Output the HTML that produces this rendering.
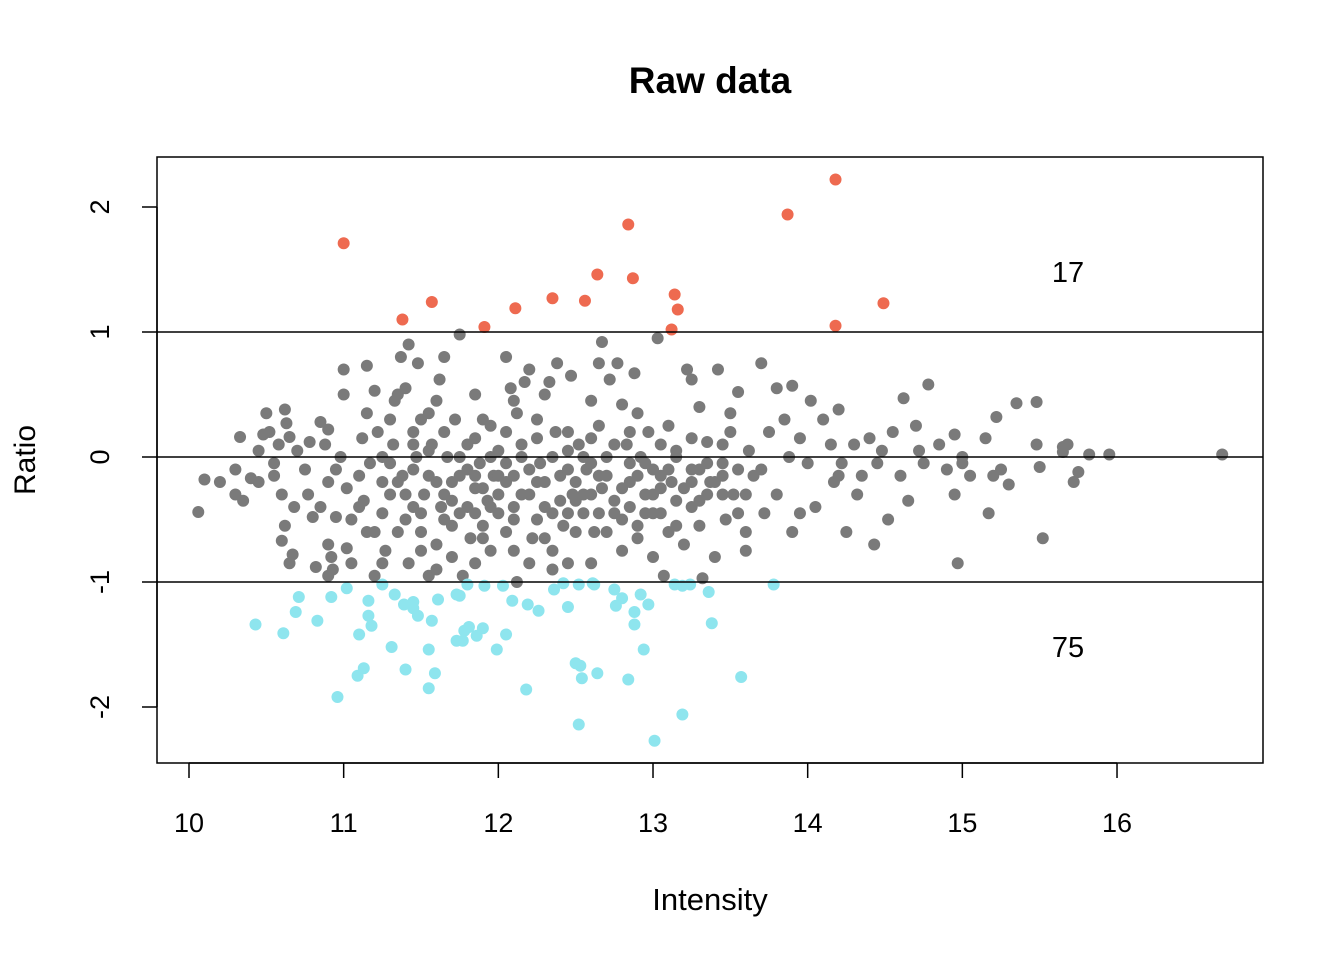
<!DOCTYPE html>
<html><head><meta charset="utf-8">
<style>
html,body{margin:0;padding:0;background:#fff;}
svg{display:block;font-family:"Liberation Sans",Arial,sans-serif;}
</style></head>
<body>
<svg id="chart" width="1344" height="960" viewBox="0 0 1344 960" xmlns="http://www.w3.org/2000/svg">
<text x="710" y="93" font-size="37" font-weight="bold" text-anchor="middle">Raw data</text>
<text x="710" y="910" font-size="31" text-anchor="middle">Intensity</text>
<text transform="translate(35,460) rotate(-90)" font-size="30" text-anchor="middle">Ratio</text>
<g id="pts"></g>
<g id="axes"></g>
<rect x="157" y="157" width="1106" height="606" fill="none" stroke="#000" stroke-width="1.5"/>
<text x="1068" y="282" font-size="29" text-anchor="middle">17</text>
<text x="1068" y="657" font-size="29" text-anchor="middle">75</text>
</svg>
<script>
const xTicks=[10,11,12,13,14,15,16];
const yTicks=[-2,-1,0,1,2];
const yTickLabels=["-2","-1","0","1","2"];
const refLines=[-1,0,1];
const upX=[11.00,11.38,11.57,11.91,12.11,12.35,12.56,12.64,12.84,12.87,13.14,13.16,13.12,13.87,14.18,14.18,14.49];
const upY=[1.71,1.10,1.24,1.04,1.19,1.27,1.25,1.46,1.86,1.43,1.30,1.18,1.02,1.94,2.22,1.05,1.23];
const downPx=[[256,625],[284,633],[296,612],[299,597],[317,621],[332,597],[346,588],[338,697],[357,676],[364,668],[359,634],[369,601],[369,616],[372,626],[382,585],[391,647],[395,595],[404,604],[413,602],[414,608],[418,616],[406,670],[429,649],[428,688],[435,673],[432,621],[438,599],[457,594],[459,596],[467,584],[484,586],[503,586],[512,601],[528,604],[456,641],[462,641],[465,631],[469,627],[476,636],[483,628],[497,650],[506,635],[526,690],[554,590],[564,583],[578,585],[592,583],[595,585],[538,611],[568,607],[614,589],[622,598],[616,606],[640,594],[648,604],[634,612],[634,624],[644,649],[675,584],[682,586],[690,584],[709,592],[712,623],[773,584],[575,663],[580,666],[582,678],[597,673],[628,679],[741,677],[579,725],[682,715],[655,741]];
const downX=downPx.map(p=>+(10+(p[0]-189)/154.67).toFixed(2));
const downY=downPx.map(p=>+((457-p[1])/125).toFixed(2));
const grayPts=[[10.06,-0.44],[10.1,-0.18],[10.2,-0.2],[10.3,-0.1],[10.33,0.16],[10.3,-0.3],[10.35,-0.35],[10.4,-0.17],[10.45,0.05],[10.45,-0.2],[10.48,0.18],[10.5,0.35],[10.52,0.2],[10.55,-0.15],[10.55,-0.05],[10.58,0.1],[10.6,-0.67],[10.6,-0.3],[10.62,0.38],[10.63,0.27],[10.62,-0.55],[10.65,0.16],[10.68,-0.4],[10.67,-0.78],[10.7,0.05],[10.65,-0.85],
[10.75,-0.1],[10.77,-0.3],[10.78,0.12],[10.8,-0.48],[10.82,-0.88],[10.85,-0.4],[10.85,0.28],[10.88,0.1],[10.9,-0.2],[10.9,0.22],[10.9,-0.7],[10.92,-0.8],[10.9,-0.95],[10.95,-0.48],[10.95,-0.1],[10.98,0.0],[11.0,0.5],[11.0,0.7],[11.02,-0.25],[11.02,-0.73],[11.05,-0.5],[11.05,-0.85],[10.93,-0.9],
[11.1,-0.15],[11.12,0.15],[11.13,-0.35],[11.15,0.35],[11.15,0.73],[11.17,-0.05],[11.2,0.53],[11.2,-0.6],[11.22,0.2],[11.25,-0.45],[11.25,0.0],[11.27,-0.75],[11.3,0.3],[11.3,-0.3],[11.32,0.1],[11.33,0.45],[11.35,-0.6],[11.35,0.5],[11.37,0.8],[11.38,-0.15],[11.4,-0.5],[11.4,0.55],[11.42,0.9],[11.42,-0.85],[11.45,0.2],[11.45,-0.1],[11.47,0.0],[11.48,0.75],[11.5,-0.6],[11.5,0.3],[11.2,-0.95],[11.25,-0.85],
[11.52,-0.3],[11.55,-0.95],[11.57,0.1],[11.6,0.45],[11.6,-0.7],[11.62,0.62],[11.63,-0.4],[11.65,0.8],[11.67,0.0],[11.7,-0.2],[11.7,-0.55],[11.72,0.3],[11.75,0.98],[11.75,-0.15],[11.77,-0.95],[11.8,-0.4],[11.8,0.1],[11.82,-0.65],[11.85,0.5],[11.85,-0.25],[11.88,-0.05],[11.9,0.3],[11.9,-0.55],[11.93,-0.35],[11.95,0.25],[11.97,-0.15],[12.0,-0.45],[12.0,0.05],[11.6,-0.9],[11.95,-0.75],
[12.05,0.8],[12.05,-0.2],[12.08,0.55],[12.1,-0.5],[12.12,0.35],[12.12,-1.0],[12.15,0.0],[12.17,0.6],[12.2,-0.3],[12.2,0.7],[12.22,-0.65],[12.25,0.15],[12.27,-0.05],[12.3,0.5],[12.3,-0.4],[12.33,0.6],[12.35,-0.75],[12.37,0.2],[12.38,0.75],[12.4,-0.15],[12.42,-0.55],[12.45,0.05],[12.47,0.65],[12.48,-0.3],[12.35,-0.9],[12.45,-0.85],
[12.52,0.1],[12.55,-0.45],[12.57,-0.1],[12.6,0.15],[12.62,-0.6],[12.65,0.75],[12.67,0.92],[12.67,-0.25],[12.7,0.0],[12.72,0.62],[12.75,-0.35],[12.77,0.75],[12.8,0.42],[12.8,-0.5],[12.83,0.1],[12.85,-0.2],[12.88,0.67],[12.9,-0.65],[12.9,0.35],[12.92,0.0],[12.95,-0.3],[12.97,0.2],[13.0,-0.8],[13.0,-0.1],[12.6,-0.85],
[13.03,0.95],[13.05,-0.45],[13.07,-0.95],[13.1,0.25],[13.12,-0.2],[13.15,-0.55],[13.15,0.05],[13.2,-0.7],[13.22,0.7],[13.25,0.62],[13.25,-0.1],[13.3,0.4],[13.3,-0.35],[13.32,-0.97],[13.35,0.12],[13.37,-0.2],[13.4,-0.8],[13.42,0.7],[13.45,-0.05],[13.47,-0.5],[13.5,0.2],[13.55,0.52],[13.52,-0.3],
[13.6,-0.6],[13.62,0.05],[13.65,-0.15],[13.7,0.75],[13.72,-0.45],[13.75,0.2],[13.8,0.55],[13.8,-0.3],[13.85,0.3],[13.88,0.0],[13.9,0.57],[13.9,-0.6],[13.95,-0.45],[13.95,0.15],[14.0,-0.05],[13.6,-0.75],[13.55,-0.1],
[14.02,0.45],[14.05,-0.4],[14.1,0.3],[14.15,0.1],[14.17,-0.2],[14.2,0.38],[14.22,-0.05],[14.25,-0.6],[14.3,0.1],[14.32,-0.3],[14.35,-0.15],[14.4,0.15],[14.43,-0.7],[14.45,-0.05],[14.48,0.05],[14.2,-0.15],
[14.52,-0.5],[14.55,0.2],[14.6,-0.15],[14.62,0.47],[14.65,-0.35],[14.7,0.25],[14.72,0.05],[14.75,-0.05],[14.78,0.58],[14.85,0.1],[14.9,-0.1],[14.95,0.18],[14.95,-0.3],[14.97,-0.85],[15.0,0.0],[15.0,-0.05],
[15.05,-0.15],[15.15,0.15],[15.17,-0.45],[15.2,-0.15],[15.22,0.32],[15.25,-0.1],[15.3,-0.22],[15.35,0.43],[15.48,0.44],[15.48,0.1],[15.5,-0.08],[15.52,-0.65],[15.65,0.08],[15.68,0.1],[15.72,-0.2],[15.75,-0.12],[15.82,0.02],[15.95,0.02],[16.68,0.02],[15.65,0.04],
[11.6,-0.2],[11.7,-0.35],[11.8,-0.1],[11.9,-0.25],[12.0,-0.3],[12.1,-0.15],[12.2,-0.1],[12.3,-0.2],[12.4,-0.35],[12.5,-0.2],[12.6,-0.3],[12.7,-0.15],[12.8,-0.25],[12.9,-0.15],[13.0,-0.3],[13.1,-0.1],[13.2,-0.25],[13.3,-0.1],[13.4,-0.2],[11.65,-0.5],[11.85,-0.45],[12.05,-0.6],[12.25,-0.5],[12.45,-0.45],[12.65,-0.45],[12.85,-0.4],[13.05,-0.25],[13.25,-0.4],[11.55,0.05],[11.75,0.0],[11.95,0.0],[12.15,0.1],[12.35,0.0],[12.55,0.0],[12.75,0.1],[12.95,-0.05],[13.15,0.0],[13.35,-0.05],[11.4,-0.3],[11.3,-0.05],[11.1,-0.4],[11.5,-0.45],[12.1,-0.4],[12.6,-0.05],[13.45,-0.3],[13.6,-0.3],[13.7,-0.1],
[11.35,-0.2],[11.45,-0.4],[11.55,-0.15],[11.65,-0.3],[11.75,-0.45],[11.85,-0.15],[11.95,-0.4],[12.05,-0.05],[12.15,-0.3],[12.25,-0.2],[12.35,-0.45],[12.45,-0.1],[12.55,-0.3],[12.65,-0.15],[12.75,-0.45],[12.85,-0.05],[12.95,-0.45],[13.05,-0.15],[13.15,-0.35],[13.25,-0.2],[13.35,-0.3],[13.45,-0.15],[11.5,-0.75],[11.7,-0.8],[11.9,-0.65],[12.1,-0.75],[12.3,-0.65],[12.5,-0.6],[12.7,-0.6],[12.9,-0.55],[13.1,-0.6],[13.3,-0.55],[11.45,0.1],[11.65,0.2],[11.85,0.15],[12.05,0.2],[12.25,0.3],[12.45,0.2],[12.65,0.25],[12.85,0.2],[13.05,0.1],[13.25,0.15],[13.45,0.1],[11.25,-0.2],[11.15,-0.6],[12.0,-0.15],[12.5,-0.35],[13.0,-0.45],[13.55,-0.45],[12.2,-0.85],[12.8,-0.75],[11.85,-0.85],[12.6,0.45],[12.1,0.45],[11.55,0.35],[13.5,0.35]];
const grayX=grayPts.map(p=>p[0]);
const grayY=grayPts.map(p=>p[1]);

const NS="http://www.w3.org/2000/svg";
const sx=v=>189+(v-10)*154.67;
const sy=v=>457-v*125;
const pts=document.getElementById('pts');
const axes=document.getElementById('axes');
function mk(tag,attrs,parent){const e=document.createElementNS(NS,tag);for(const k in attrs)e.setAttribute(k,attrs[k]);parent.appendChild(e);return e;}
function dots(xs,ys,col,name){xs.forEach((x,i)=>{const c=mk('circle',{cx:sx(x),cy:sy(ys[i]),r:6,fill:col},pts);

});}
dots(grayX,grayY,'#7a7a7a','gray-point');
dots(upX,upY,'#ee6a50','up-point');
dots(downX,downY,'#8ee5ee','down-point');
refLines.forEach(v=>{const l=mk('line',{x1:157,x2:1263,y1:sy(v),y2:sy(v),stroke:'#000','stroke-width':1.5},axes);

});
const xa=mk('line',{x1:sx(10),x2:sx(16),y1:763,y2:763,stroke:'#000','stroke-width':1.5},axes);


xTicks.forEach(v=>{const t=mk('line',{x1:sx(v),x2:sx(v),y1:763,y2:778,stroke:'#000','stroke-width':1.5},axes);


const tx=mk('text',{x:sx(v),y:832,'font-size':27,'text-anchor':'middle'},axes);tx.textContent=v;

});
const ya=mk('line',{x1:157,x2:157,y1:sy(-2),y2:sy(2),stroke:'#000','stroke-width':1.5},axes);


yTicks.forEach((v,i)=>{const t=mk('line',{x1:142,x2:157,y1:sy(v),y2:sy(v),stroke:'#000','stroke-width':1.5},axes);


const tx=mk('text',{transform:`translate(109,${sy(v)}) rotate(-90)`,'font-size':27,'text-anchor':'middle'},axes);tx.textContent=yTickLabels[i];

});
</script>
</body></html>
